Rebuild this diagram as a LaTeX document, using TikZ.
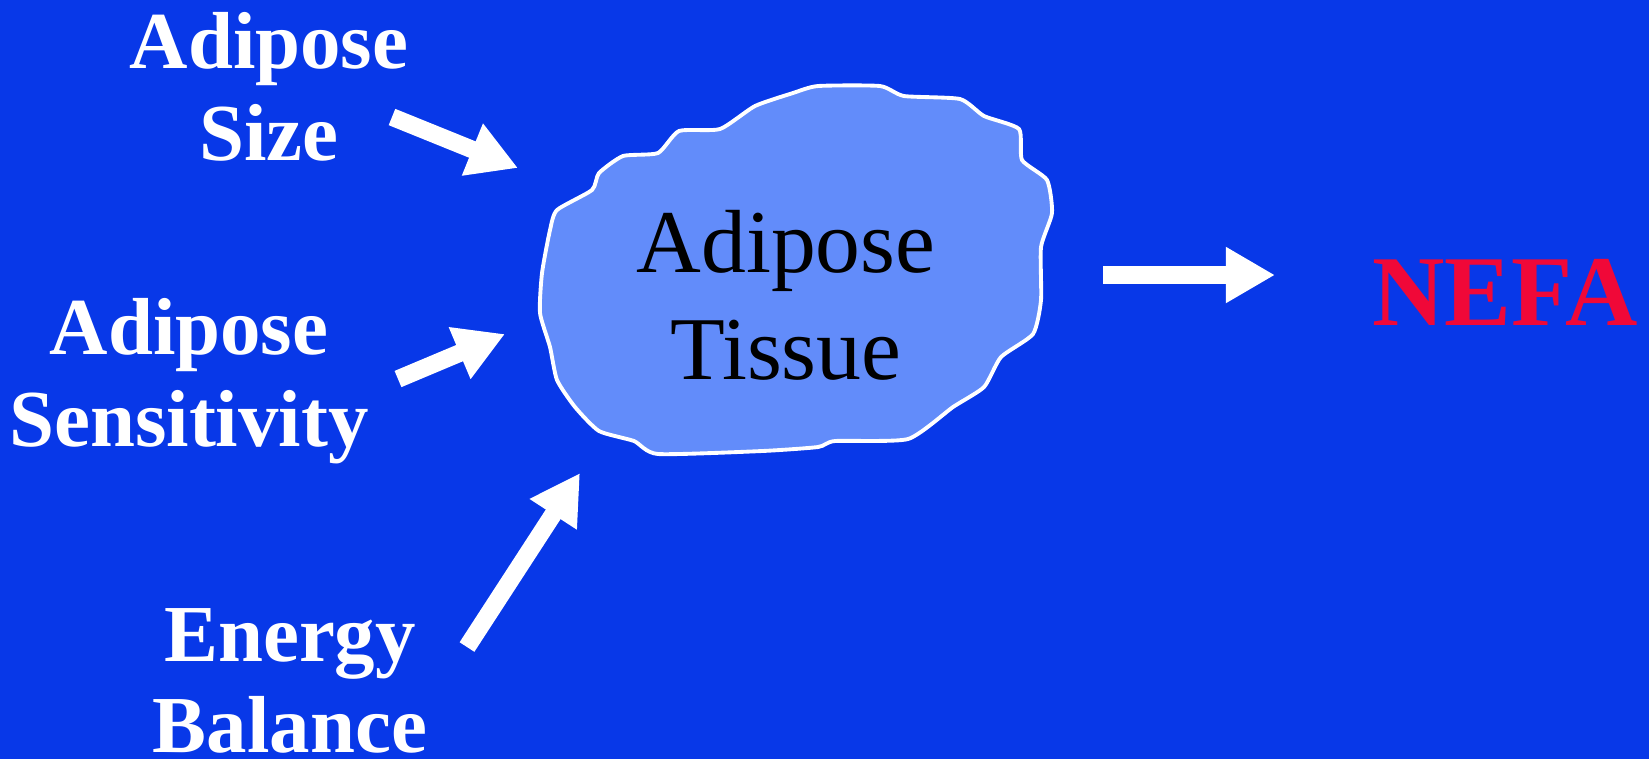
\documentclass[tikz,border=0pt]{standalone}
\usepackage{fontspec}
\setmainfont{Liberation Serif}
\usepackage{xcolor}
\usetikzlibrary{arrows.meta}
\definecolor{slideblue}{RGB}{8, 56, 232}
\definecolor{cloudblue}{RGB}{98, 140, 250}
\definecolor{nefared}{RGB}{240, 8, 56}

\begin{document}
\begin{tikzpicture}[
    x=0.01cm, y=-0.01cm,
    factor/.style={font=\fontsize{23}{26}\selectfont\bfseries, text=white, align=center, inner sep=0pt},
    bigarrow/.style={white, line width=5pt, -{Triangle[length=14pt, width=15pt]}}
]
% Background
\fill[slideblue] (0,0) rectangle (1649,759);
\useasboundingbox (0,0) rectangle (1649,759);

% Adipose tissue blob
\draw[white, line width=1.1pt, fill=cloudblue] plot[smooth cycle, tension=0.35] coordinates {
    (818,86) (880,86) (904,96) (960,99) (984,116) (1019,129) (1022,160)
    (1047,180) (1052,213) (1041,247) (1041,300) (1033,334) (1001,357)
    (984,387) (953,407) (908,439) (835,441) (818,447) (762,451) (658,454)
    (634,441) (599,431) (575,407) (557,380) (550,347) (540,313) (542,273)
    (550,230) (557,210) (592,190) (599,173) (623,156) (658,153) (679,131)
    (720,129) (755,106) (793,93)};
\node[font=\fontsize{25.5}{30.4}\selectfont, align=center, inner sep=0pt] (tissue) at (786,295) {Adipose\\Tissue};

% Factors
\node[factor] (size) at (269,87) {Adipose\\Size};
\node[factor] (sensitivity) at (189,381) {Adipose\\Sensitivity};
\node[factor] (energy) at (290,681) {Energy\\Balance};
\node[font=\fontsize{28.5}{34}\selectfont\bfseries, text=nefared, inner sep=0pt] (nefa) at (1505,292) {NEFA};

% Arrow ends
\coordinate (size-out) at (392,117);
\coordinate (size-in) at (518,168);
\coordinate (sens-out) at (398,379);
\coordinate (sens-in) at (505,334);
\coordinate (energy-out) at (467,647);
\coordinate (energy-in) at (580,473);
\coordinate (tissue-out) at (1103,275);
\coordinate (nefa-in) at (1275,275);

% Arrows
\draw[bigarrow] (size-out) -- (size-in);
\draw[bigarrow] (sens-out) -- (sens-in);
\draw[bigarrow] (energy-out) -- (energy-in);
\draw[bigarrow] (tissue-out) -- (nefa-in);
\end{tikzpicture}
\end{document}
